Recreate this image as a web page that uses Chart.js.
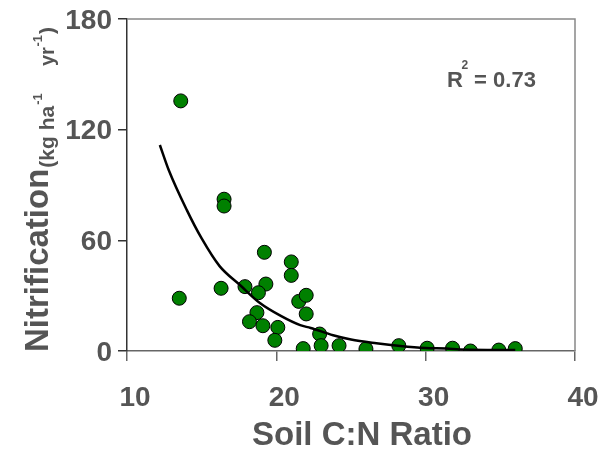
<!DOCTYPE html>
<html>
<head>
<meta charset="utf-8">
<script src="https://cdn.jsdelivr.net/npm/chart.js@4/dist/chart.umd.min.js"></script>
<style>
  html, body { margin: 0; padding: 0; background: #fff; }
  #wrap { width: 609px; height: 449px; }
</style>
</head>
<body>
<div id="wrap"><canvas id="chart" width="609" height="449"></canvas></div>
<script>
// Observed points (soil C:N ratio vs nitrification)
const cnRatio = [13.6, 13.5, 16.5, 16.5, 16.3, 19.2, 17.9, 19.3, 18.8, 18.7, 18.2, 19.1, 20.1, 19.9,
  21.0, 21.0, 21.5, 22.0, 22.0, 21.8, 22.9, 23.0, 24.2, 26.0, 28.2, 30.1, 31.8, 33.0, 34.9, 36.0];
const nitrification = [135.6, 28.6, 82.3, 78.6, 34.0, 53.5, 34.9, 36.3, 31.6, 20.8, 15.9, 13.7, 12.8, 5.8,
  48.3, 41.0, 26.9, 30.2, 20.1, 1.3, 9.2, 2.9, 2.9, 1.1, 2.9, 1.5, 1.5, 0.0, 0.5, 1.3];

// Fitted curve
const fitX = [12.2, 12.8, 14.0, 15.0, 16.2, 17.6, 18.9, 20.3, 21.6, 22.3, 23.8, 25.0, 26.7, 28.3, 30.0, 31.4, 32.3, 36.0];
const fitY = [111.7, 98.0, 76.5, 61.0, 46.0, 35.5, 26.0, 19.0, 14.0, 12.5, 8.5, 6.2, 4.2, 2.7, 1.6, 1.3, 0.8, 0.5];

const xTicks = [10, 20, 30, 40];
const yTicks = [0, 60, 120, 180];

const textColor = '#555555';
const fontFamily = '"Liberation Sans", Arial, sans-serif';

const points = cnRatio.map((x, i) => ({ x: x, y: nitrification[i] }));
const curve = fitX.map((x, i) => ({ x: x, y: fitY[i] }));

// frame lines, axis titles and R2 label
const extras = {
  id: 'extras',
  afterDraw(chart) {
    const ctx = chart.ctx;
    const a = chart.chartArea;
    ctx.save();
    ctx.strokeStyle = '#888888';
    ctx.lineWidth = 1.5;
    ctx.beginPath();
    ctx.moveTo(a.left, a.top);
    ctx.lineTo(a.right, a.top);
    ctx.lineTo(a.right, a.bottom);
    ctx.stroke();

    ctx.fillStyle = textColor;
    ctx.textBaseline = 'alphabetic';

    // x title
    ctx.font = 'bold 33px ' + fontFamily;
    ctx.textAlign = 'center';
    ctx.fillText('Soil C:N Ratio', 362, 445);

    // y title
    ctx.textAlign = 'left';
    ctx.translate(48, 352);
    ctx.rotate(-Math.PI / 2);
    ctx.font = 'bold 33px ' + fontFamily;
    ctx.fillText('Nitrification', 0, 0);
    let pos = ctx.measureText('Nitrification').width + 1;
    ctx.font = 'bold 21px ' + fontFamily;
    ctx.fillText('(kg ha', pos, 6);
    pos += ctx.measureText('(kg ha').width + 1;
    ctx.font = 'bold 13px ' + fontFamily;
    ctx.fillText('-1', pos, -6);
    ctx.font = 'bold 20px ' + fontFamily;
    ctx.fillText('yr', 286, 6);
    pos = 286 + ctx.measureText('yr').width + 0.5;
    ctx.font = 'bold 13px ' + fontFamily;
    ctx.fillText('-1', pos, -6);
    ctx.font = 'bold 21px ' + fontFamily;
    ctx.fillText(')', 318, 6);
    ctx.setTransform(1, 0, 0, 1, 0, 0);

    // R2 label
    ctx.font = 'bold 22px ' + fontFamily;
    ctx.fillText('R', 447, 87);
    ctx.font = 'bold 12px ' + fontFamily;
    ctx.fillText('2', 461.5, 69);
    ctx.font = 'bold 22px ' + fontFamily;
    ctx.fillText(' = 0.73', 468, 87);
    ctx.restore();
  }
};

new Chart(document.getElementById('chart'), {
  type: 'scatter',
  data: {
    datasets: [
      {
        type: 'line',
        data: curve,
        borderColor: '#000000',
        borderWidth: 2.5,
        pointRadius: 0,
        fill: false,
        cubicInterpolationMode: 'monotone'
      },
      {
        data: points,
        backgroundColor: '#008000',
        borderColor: '#000000',
        borderWidth: 1,
        pointRadius: 7,
        pointHoverRadius: 7
      }
    ]
  },
  options: {
    responsive: false,
    animation: false,
    layout: { padding: { left: 0, right: 34, top: 19, bottom: 0 } },
    plugins: { legend: { display: false }, tooltip: { enabled: false } },
    scales: {
      x: {
        type: 'linear',
        min: 10,
        max: 40,
        afterBuildTicks: (s) => { s.ticks = xTicks.map(v => ({ value: v })); },
        afterFit: (s) => { s.height = 98; s.paddingLeft = 0; s.paddingRight = 0; },
        border: { color: '#666666', width: 1.5 },
        grid: { drawOnChartArea: false, tickLength: 10, color: '#666666', lineWidth: 1.5 },
        ticks: {
          color: textColor,
          font: { family: fontFamily, size: 28, weight: 'bold' },
          padding: 20,
          labelOffset: 8,
          maxRotation: 0
        }
      },
      y: {
        type: 'linear',
        min: 0,
        max: 180,
        afterBuildTicks: (s) => { s.ticks = yTicks.map(v => ({ value: v })); },
        afterFit: (s) => { s.width = 127; s.paddingTop = 0; s.paddingBottom = 0; },
        border: { color: '#333333', width: 1.5 },
        grid: { drawOnChartArea: false, tickLength: 9, color: '#333333', lineWidth: 1.5 },
        ticks: {
          color: textColor,
          font: { family: fontFamily, size: 28, weight: 'bold' },
          padding: 6,
          labelOffset: 2
        }
      }
    }
  },
  plugins: [extras]
});
</script>
</body>
</html>
